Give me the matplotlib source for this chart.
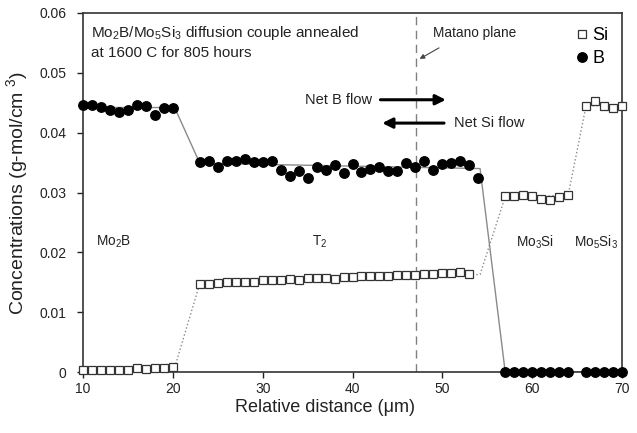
import numpy as np
import matplotlib
matplotlib.use('Agg')
import matplotlib.pyplot as plt

plt.rcParams['font.family'] = ['Liberation Sans', 'DejaVu Sans']
plt.rcParams['mathtext.fontset'] = 'custom'
plt.rcParams['mathtext.rm'] = 'Liberation Sans'

# B concentration (filled circles)
b_x = list(range(10, 21)) + list(range(23, 55)) + list(range(57, 65)) + list(range(66, 71))
b_y = [0.0446, 0.0446, 0.0443, 0.0438, 0.0434, 0.0438, 0.0447, 0.0445, 0.0430, 0.0441, 0.0441,
       0.0351, 0.0353, 0.0342, 0.0352, 0.0353, 0.0356, 0.0351, 0.0351, 0.0353, 0.0338,
       0.0328, 0.0336, 0.0325, 0.0343, 0.0338, 0.0346, 0.0333, 0.0347, 0.0335, 0.0340,
       0.0342, 0.0336, 0.0336, 0.0349, 0.0343, 0.0352, 0.0337, 0.0347, 0.0349, 0.0352,
       0.0346, 0.0325,
       0, 0, 0, 0, 0, 0, 0, 0,
       0, 0, 0, 0, 0]

# Si concentration (open squares)
si_x = list(range(10, 21)) + list(range(23, 54)) + list(range(57, 65)) + list(range(66, 71))
si_y = [0.0004, 0.0004, 0.0004, 0.0004, 0.0004, 0.0004, 0.0006, 0.0005, 0.0006, 0.0007, 0.0009,
        0.0147, 0.0147, 0.0148, 0.0150, 0.0151, 0.0150, 0.0150, 0.0153, 0.0154, 0.0154,
        0.0155, 0.0154, 0.0157, 0.0157, 0.0157, 0.0155, 0.0159, 0.0159, 0.0160, 0.0160,
        0.0161, 0.0161, 0.0162, 0.0162, 0.0162, 0.0163, 0.0163, 0.0165, 0.0165, 0.0167,
        0.0163,
        0.0294, 0.0294, 0.0296, 0.0294, 0.0289, 0.0288, 0.0292, 0.0295,
        0.0445, 0.0453, 0.0444, 0.0442, 0.0445]

# trend lines through each phase
b_line_x = [10, 20.2, 23, 54.2, 57, 70]
b_line_y = [0.0442, 0.0442, 0.0349, 0.0340, 0, 0]
si_line_x = [10, 20.2, 23, 54.2, 57, 64, 66, 70]
si_line_y = [0.0005, 0.0007, 0.0148, 0.0163, 0.0293, 0.0295, 0.0445, 0.0445]

matano_x = 47.1

phases = ['Mo$_2$B', 'T$_2$', 'Mo$_3$Si', 'Mo$_5$Si$_3$']
phase_x = [13.4, 36.4, 60.3, 67.1]

fig = plt.figure(figsize=(6.37, 4.33), dpi=100)
ax = fig.add_axes([83 / 637, 61 / 433, 539 / 637, 359 / 433])

ax.plot(b_line_x, b_line_y, color='#8a8a8a', lw=1.0, zorder=1)
ax.plot(si_line_x, si_line_y, color='#8a8a8a', lw=1.0, ls=':', zorder=1)
ax.axvline(matano_x, color='#808080', ls=(0, (6, 4)), lw=1.0, zorder=1)

ax.plot(si_x, si_y, ls='none', marker='s', ms=6.2, mfc='white', mec='#333333', mew=0.9,
        label='Si', zorder=3, clip_on=False)
ax.plot(b_x, b_y, ls='none', marker='o', ms=6.8, mfc='black', mec='black',
        label='B', zorder=4, clip_on=False)

ax.set_xlim(10, 70)
ax.set_ylim(0, 0.06)
ax.set_xticks(range(10, 71, 10))
ax.set_yticks([0, 0.01, 0.02, 0.03, 0.04, 0.05, 0.06])
ax.set_yticklabels(['0', '0.01', '0.02', '0.03', '0.04', '0.05', '0.06'])
ax.tick_params(direction='out', length=4, width=1, labelsize=10, colors='#222222')
ax.tick_params(axis='y', pad=8)
for s in ax.spines.values():
    s.set_color('#333333')
    s.set_linewidth(1.2)

ax.set_xlabel('Relative distance (\u03bcm)', fontsize=13, color='#222222', labelpad=2)
ax.xaxis.set_label_coords(0.449, -0.075)
ax.set_ylabel('Concentrations (g-mol/cm $^3$)', fontsize=14, color='#222222', labelpad=6)

ax.text(10.9, 0.0567, 'Mo$_2$B/Mo$_5$Si$_3$ diffusion couple annealed', fontsize=11,
        va='center', ha='left', color='#222222')
ax.text(10.9, 0.0533, 'at 1600 C for 805 hours', fontsize=11, va='center', ha='left',
        color='#222222')

ax.text(53.6, 0.0567, 'Matano plane', fontsize=9.8, ha='center', va='center', color='#222222')
ax.annotate('', xy=(47.2, 0.0521), xytext=(49.9, 0.0544),
            arrowprops=dict(arrowstyle='-|>', color='#444444', lw=0.8, mutation_scale=7))

ax.text(42.2, 0.0455, 'Net B flow', fontsize=10.5, ha='right', va='center', color='#222222')
ax.annotate('', xy=(50.7, 0.0455), xytext=(42.8, 0.0455),
            arrowprops=dict(arrowstyle='-|>', color='black', lw=2.2, mutation_scale=15))
ax.text(51.3, 0.0416, 'Net Si flow', fontsize=10.5, ha='left', va='center', color='#222222')
ax.annotate('', xy=(43.0, 0.0416), xytext=(50.5, 0.0416),
            arrowprops=dict(arrowstyle='-|>', color='black', lw=2.2, mutation_scale=15))

for name, x in zip(phases, phase_x):
    ax.text(x, 0.0217, name, fontsize=9.8, ha='center', va='center', color='#222222')

ax.legend(loc='upper right', bbox_to_anchor=(0.995, 0.99), frameon=False, fontsize=13,
          handlelength=0.6, handletextpad=0.25, labelspacing=0.3, borderaxespad=0.2)

fig.savefig('out.png', dpi=100)
